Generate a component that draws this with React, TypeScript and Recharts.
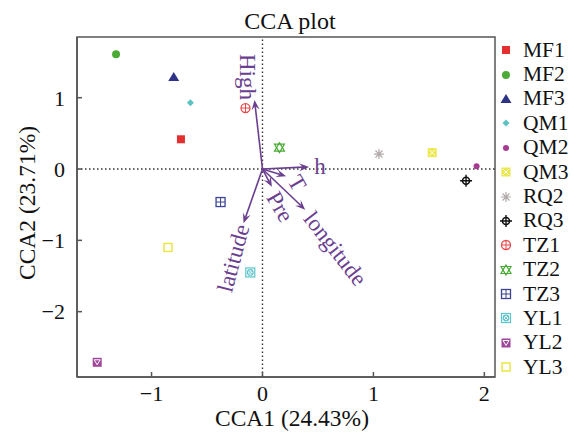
import React from 'react'
import { ReferenceArea, ReferenceLine, Scatter, ScatterChart, XAxis, YAxis } from 'recharts'

// sample scores on the first two CCA axes
const samples = ['MF1', 'MF2', 'MF3', 'QM1', 'QM2', 'QM3', 'RQ2', 'RQ3', 'TZ1', 'TZ2', 'TZ3', 'YL1', 'YL2', 'YL3']
const cca1 = [-0.735, -1.32, -0.8, -0.65, 1.93, 1.53, 1.05, 1.835, -0.153, 0.153, -0.378, -0.11, -1.49, -0.852]
const cca2 = [0.417, 1.61, 1.29, 0.93, 0.04, 0.23, 0.21, -0.165, 0.855, 0.3, -0.463, -1.45, -2.71, -1.1]

// environmental factor vectors
const envNames = ['High', 'h', 'T', 'Pre', 'longitude', 'latitude']
const envX = [-0.072, 0.42, 0.213, 0.085, 0.385, -0.171]
const envY = [0.968, 0.03, -0.1, -0.25, -0.57, -0.76]

const xTicks = [-1, 0, 1, 2]
const yTicks = [-2, -1, 0, 1]
const xDomain = [-1.672, 2.096]
const yDomain = [-2.916, 1.851]

// styles
const shapes = ['square', 'circle', 'triangle', 'diamond', 'dot', 'squareX', 'asterisk', 'crossCircle', 'circlePlus', 'hexagram', 'squarePlus', 'squareCircle', 'squareTri', 'openSquare']
const colors = ['#e3302f', '#4bab36', '#2f3387', '#5cc1c3', '#a83a91', '#ece74a', '#b3aaaa', '#111111', '#e84848', '#4bab36', '#3d4496', '#5ac5cc', '#a0479c', '#ece33a']
// label offset from arrow tip (px) and rotation
const envLabelPos = [
  [-7, -23, 90],
  [11, 0, 0],
  [11, 7, 60],
  [8, 20, 60],
  [30, 39, 52],
  [-10, 35, -75],
]

const FONT = "'Liberation Serif', 'Times New Roman', serif"
const PURPLE = '#6b3f8f'
const AXIS = '#555'

const Marker = ({ kind, cx, cy, color }: { kind: string; cx: number; cy: number; color: string }) => {
  switch (kind) {
    case 'square':
      return <rect x={cx - 4} y={cy - 4} width={8} height={8} fill={color} />
    case 'circle':
      return <circle cx={cx} cy={cy} r={4} fill={color} />
    case 'triangle':
      return <polygon points={`${cx},${cy - 5} ${cx + 5.5},${cy + 4} ${cx - 5.5},${cy + 4}`} fill={color} />
    case 'diamond':
      return <polygon points={`${cx},${cy - 3.5} ${cx + 3.5},${cy} ${cx},${cy + 3.5} ${cx - 3.5},${cy}`} fill={color} />
    case 'dot':
      return <circle cx={cx} cy={cy} r={3} fill={color} />
    case 'squareX':
      return (
        <g>
          <rect x={cx - 4.5} y={cy - 4.5} width={9} height={9} fill={color} />
          <path d={`M${cx - 3},${cy - 3}L${cx + 3},${cy + 3}M${cx + 3},${cy - 3}L${cx - 3},${cy + 3}`} stroke="#fff" strokeWidth={1} />
        </g>
      )
    case 'asterisk':
      return (
        <path
          d={`M${cx - 5},${cy}L${cx + 5},${cy}M${cx},${cy - 5}L${cx},${cy + 5}M${cx - 3.5},${cy - 3.5}L${cx + 3.5},${cy + 3.5}M${cx + 3.5},${cy - 3.5}L${cx - 3.5},${cy + 3.5}`}
          stroke={color}
          strokeWidth={1.2}
        />
      )
    case 'crossCircle':
      return (
        <g>
          <circle cx={cx} cy={cy} r={3.5} fill="none" stroke={color} strokeWidth={1.6} />
          <path d={`M${cx - 6},${cy}L${cx + 6},${cy}M${cx},${cy - 6}L${cx},${cy + 6}`} stroke={color} strokeWidth={1.4} />
        </g>
      )
    case 'circlePlus':
      return (
        <g>
          <circle cx={cx} cy={cy} r={4.5} fill="#fff" stroke={color} strokeWidth={1.3} />
          <path d={`M${cx - 4.5},${cy}L${cx + 4.5},${cy}M${cx},${cy - 4.5}L${cx},${cy + 4.5}`} stroke={color} strokeWidth={1} />
        </g>
      )
    case 'hexagram':
      return (
        <g fill="none" stroke={color} strokeWidth={1.2}>
          <polygon points={`${cx},${cy + 5} ${cx + 5},${cy - 3.5} ${cx - 5},${cy - 3.5}`} />
          <polygon points={`${cx},${cy - 5} ${cx + 5},${cy + 3.5} ${cx - 5},${cy + 3.5}`} />
        </g>
      )
    case 'squarePlus':
      return (
        <g fill="none" stroke={color} strokeWidth={1.3}>
          <rect x={cx - 4.5} y={cy - 4.5} width={9} height={9} />
          <path d={`M${cx - 4.5},${cy}L${cx + 4.5},${cy}M${cx},${cy - 4.5}L${cx},${cy + 4.5}`} strokeWidth={1} />
        </g>
      )
    case 'squareCircle':
      return (
        <g fill="none" stroke={color} strokeWidth={1.2}>
          <rect x={cx - 4.5} y={cy - 4.5} width={9} height={9} />
          <circle cx={cx} cy={cy} r={2.8} />
          <path d={`M${cx - 2},${cy - 2}L${cx + 2},${cy + 2}M${cx + 2},${cy - 2}L${cx - 2},${cy + 2}`} strokeWidth={0.9} />
        </g>
      )
    case 'squareTri':
      return (
        <g>
          <rect x={cx - 4.5} y={cy - 4.5} width={9} height={9} fill={color} />
          <polygon points={`${cx - 3},${cy - 2.5} ${cx + 3},${cy - 2.5} ${cx},${cy + 2.5}`} fill="none" stroke="#fff" strokeWidth={1} />
        </g>
      )
    default:
      return <rect x={cx - 4} y={cy - 4} width={8} height={8} fill="#fff" stroke={color} strokeWidth={1.4} />
  }
}

const arrowShape = (i: number) => (p: any) => {
  const { x1, y1, x2, y2 } = p
  const a = Math.atan2(y2 - y1, x2 - x1)
  const c = Math.cos(a)
  const s = Math.sin(a)
  const L = 10
  const W = 4
  const bx = x2 - L * c
  const by = y2 - L * s
  const nx = x2 - 0.6 * L * c
  const ny = y2 - 0.6 * L * s
  const [ox, oy, rot] = envLabelPos[i]
  const lx = x2 + ox
  const ly = y2 + oy
  return (
    <g>
      <line x1={x1} y1={y1} x2={nx} y2={ny} stroke={PURPLE} strokeWidth={1.6} />
      <polygon points={`${x2},${y2} ${bx - W * s},${by + W * c} ${nx},${ny} ${bx + W * s},${by - W * c}`} fill={PURPLE} />
      <text
        x={lx}
        y={ly}
        textAnchor="middle"
        dominantBaseline="central"
        transform={`rotate(${rot}, ${lx}, ${ly})`}
        fill={PURPLE}
        fontSize={23}
        fontFamily={FONT}
      >
        {envNames[i]}
      </text>
    </g>
  )
}

const fmt = (v: number) => (v < 0 ? '\u2212' + Math.abs(v) : String(v))

const XTick = (p: any) => (
  <g>
    <line x1={p.x} x2={p.x} y1={p.y - 8} y2={p.y - 13} stroke={AXIS} strokeWidth={1.5} />
    <text x={p.x} y={p.y} dy="0.71em" textAnchor="middle" fontSize={22} fontFamily={FONT} fill="#111">
      {fmt(p.payload.value)}
    </text>
  </g>
)

const YTick = (p: any) => (
  <g>
    <line x1={p.x + 12} x2={p.x + 17} y1={p.y} y2={p.y} stroke={AXIS} strokeWidth={1.5} />
    <text x={p.x} y={p.y} dy="0.355em" textAnchor="end" fontSize={22} fontFamily={FONT} fill="#111">
      {fmt(p.payload.value)}
    </text>
  </g>
)

export default function App() {
  return (
    <div style={{ position: 'absolute', left: 0, top: 0, width: 574, height: 432, background: '#fff', fontFamily: FONT }}>
      <div style={{ position: 'absolute', left: 0, top: 8, width: 580, textAlign: 'center', fontSize: 24, color: '#111' }}>
        CCA plot
      </div>
      <ScatterChart width={574} height={432} margin={{ top: 37, right: 79, bottom: 0, left: 0 }}>
        <XAxis
          type="number"
          dataKey="x"
          domain={xDomain}
          allowDataOverflow
          ticks={xTicks}
          interval={0}
          height={55}
          tickSize={0}
          tickMargin={8}
          tick={XTick}
          axisLine={{ stroke: AXIS, strokeWidth: 1.5 }}
          label={{ value: 'CCA1 (24.43%)', position: 'insideBottom', offset: 6, dx: 6, fontSize: 23.5, fill: '#111', fontFamily: FONT }}
        />
        <YAxis
          type="number"
          dataKey="y"
          domain={yDomain}
          allowDataOverflow
          ticks={yTicks}
          interval={0}
          width={77}
          tickSize={0}
          tickMargin={12}
          tick={YTick}
          axisLine={{ stroke: AXIS, strokeWidth: 1.5 }}
          label={{ value: 'CCA2 (23.71%)', angle: -90, position: 'insideLeft', offset: 27, dy: -4, fontSize: 23.5, fill: '#111', fontFamily: FONT, style: { textAnchor: 'middle' } }}
        />
        <ReferenceArea x1={xDomain[0]} x2={xDomain[1]} y1={yDomain[0]} y2={yDomain[1]} fill="none" stroke={AXIS} strokeWidth={1.5} />
        <ReferenceLine x={0} stroke="#333" strokeWidth={1.4} strokeDasharray="1.5 2.5" />
        <ReferenceLine y={0} stroke="#333" strokeWidth={1.4} strokeDasharray="1.5 2.5" />
        {envNames.map((n, i) => (
          <ReferenceLine
            key={n}
            segment={[
              { x: 0, y: 0 },
              { x: envX[i], y: envY[i] },
            ]}
            shape={arrowShape(i)}
          />
        ))}
        {samples.map((s, i) => (
          <Scatter
            key={s}
            name={s}
            data={[{ x: cca1[i], y: cca2[i] }]}
            isAnimationActive={false}
            shape={(p: any) => <Marker kind={shapes[i]} cx={p.cx} cy={p.cy} color={colors[i]} />}
          />
        ))}
      </ScatterChart>
      <div style={{ position: 'absolute', left: 498, top: 38 }}>
        {samples.map((s, i) => (
          <div key={s} style={{ display: 'flex', alignItems: 'center', height: 24.4, fontSize: 21.5, color: '#111' }}>
            <svg width={16} height={16} style={{ marginRight: 9 }}>
              <Marker kind={shapes[i]} cx={8} cy={8} color={colors[i]} />
            </svg>
            {s}
          </div>
        ))}
      </div>
    </div>
  )
}
